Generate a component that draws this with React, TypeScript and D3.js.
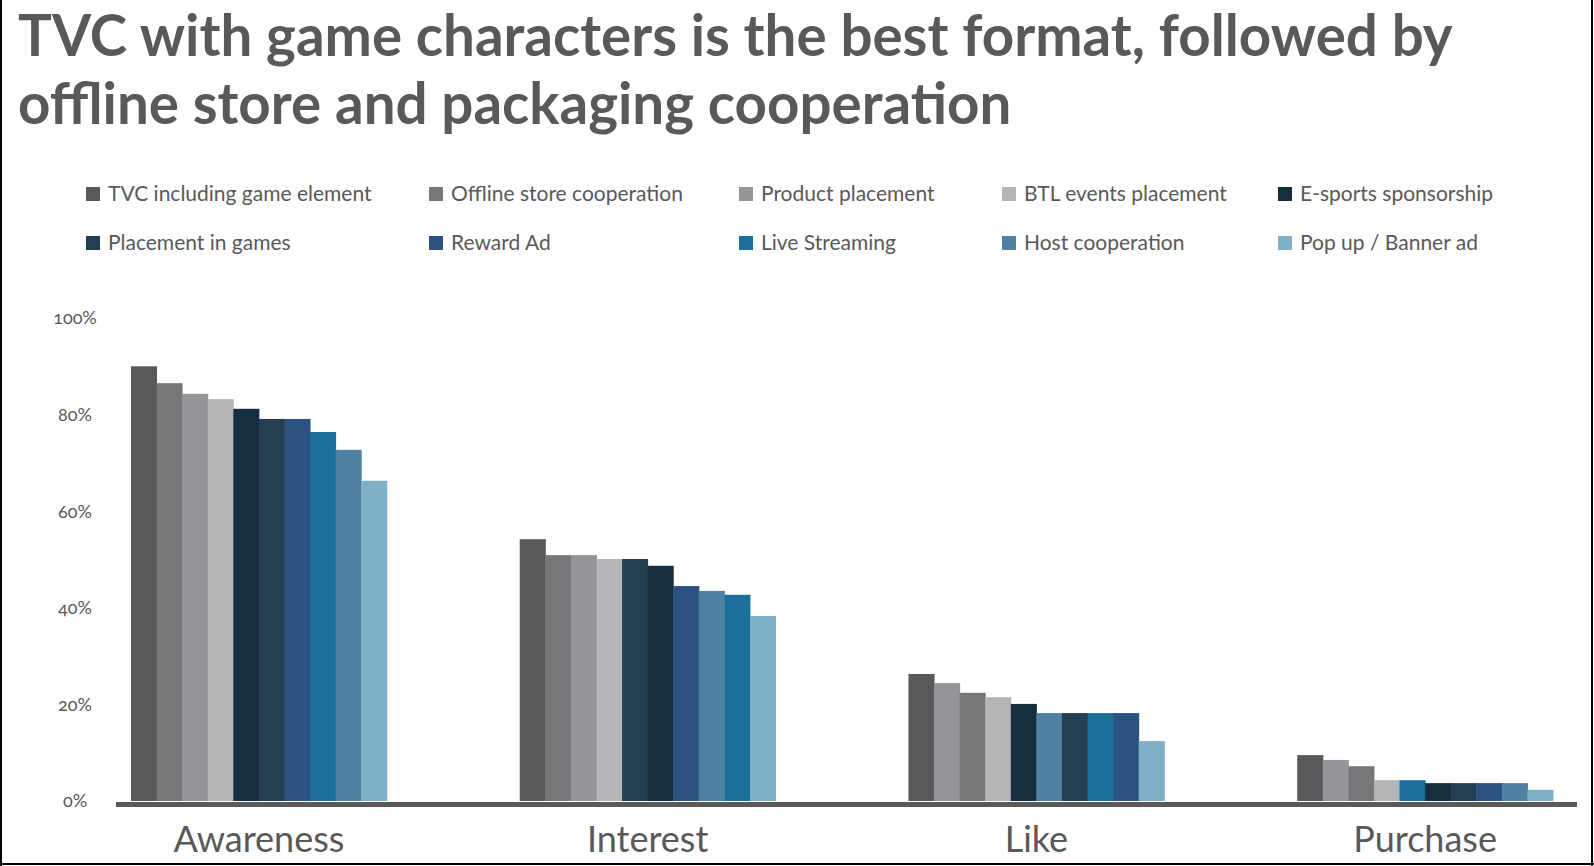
import React from "react";
import * as d3 from "d3";

const W = 1594;
const H = 866;

const categories = ["Awareness", "Interest", "Like", "Purchase"];

const seriesNames = [
  "TVC including game element",
  "Offline store cooperation",
  "Product placement",
  "BTL events placement",
  "E-sports sponsorship",
  "Placement in games",
  "Reward Ad",
  "Live Streaming",
  "Host cooperation",
  "Pop up / Banner ad",
];

const seriesColors = [
  "#58595b",
  "#767779",
  "#939598",
  "#b4b5b7",
  "#162d3d",
  "#243e52",
  "#2c5282",
  "#1a7099",
  "#4f81a3",
  "#80b0c8",
];

// values per series: [Awareness, Interest, Like, Purchase]
const tvc = [0.9, 0.542, 0.263, 0.095];
const offline = [0.865, 0.509, 0.224, 0.072];
const product = [0.843, 0.509, 0.244, 0.085];
const btl = [0.832, 0.501, 0.215, 0.043];
const esports = [0.812, 0.487, 0.201, 0.037];
const ingame = [0.791, 0.501, 0.182, 0.037];
const reward = [0.791, 0.445, 0.182, 0.037];
const live = [0.764, 0.427, 0.182, 0.043];
const host = [0.727, 0.435, 0.182, 0.037];
const popup = [0.663, 0.383, 0.124, 0.023];
const seriesValues = [tvc, offline, product, btl, esports, ingame, reward, live, host, popup];

// order of bars (series index) inside each category, as drawn
const barOrder = [
  [0, 1, 2, 3, 4, 5, 6, 7, 8, 9],
  [0, 1, 2, 3, 5, 4, 6, 8, 7, 9],
  [0, 2, 1, 3, 4, 8, 5, 7, 6, 9],
  [0, 2, 1, 3, 7, 4, 5, 6, 8, 9],
];

const yTicks = [0, 0.2, 0.4, 0.6, 0.8, 1.0];

const titleLines = [
  "TVC with game characters is the best format, followed by",
  "offline store and packaging cooperation",
];

const FONT = "Lato, 'Open Sans', sans-serif";
const TEXT = "#595959";

export default function App() {
  const x = d3
    .scaleBand<string>()
    .domain(categories)
    .range([64.5, 1619.5])
    .paddingInner(0.342)
    .paddingOuter(0.171);
  const inner = d3
    .scaleBand<number>()
    .domain(d3.range(10))
    .range([0, x.bandwidth()]);
  const y = d3.scaleLinear().domain([0, 1]).range([801, 318]);

  const legendCols = [86, 429, 739, 1002, 1278];
  const legendRows = [194, 243];

  return (
    <svg
      width={W}
      height={H}
      style={{ position: "absolute", left: 0, top: 0, background: "#fff" }}
      fontFamily={FONT}
    >
      <rect x={0} y={0} width={W} height={H} fill="#fff" />
      {/* frame */}
      <line x1={1} y1={0} x2={1} y2={H} stroke="#000" strokeWidth={2} />
      <line x1={W - 2} y1={0} x2={W - 2} y2={H} stroke="#000" strokeWidth={2} />
      <line x1={0} y1={H - 2} x2={W} y2={H - 2} stroke="#000" strokeWidth={2} />

      {titleLines.map((t, i) => (
        <text
          key={i}
          x={18}
          y={56 + i * 68}
          fontSize={56.5}
          fontWeight={700}
          fill={TEXT}
        >
          {t}
        </text>
      ))}

      {seriesNames.map((name, i) => {
        const col = i % 5;
        const row = Math.floor(i / 5);
        const lx = legendCols[col];
        const ly = legendRows[row];
        return (
          <g key={name}>
            <rect x={lx} y={ly - 7} width={14} height={14} fill={seriesColors[i]} />
            <text x={lx + 22} y={ly} dy="0.35em" fontSize={21} fill={TEXT}>
              {name}
            </text>
          </g>
        );
      })}

      {yTicks.map((t) => (
        <text
          key={t}
          x={75}
          y={y(t)}
          dy="0.35em"
          textAnchor="middle"
          fontSize={18}
          fill={TEXT}
          style={{ fontVariantNumeric: "oldstyle-nums" }}
        >
          {d3.format(".0%")(t)}
        </text>
      ))}

      {categories.map((c, ci) => (
        <g key={c} transform={`translate(${x(c)},0)`}>
          {barOrder[ci].map((si, rank) => {
            const v = seriesValues[si][ci];
            return (
              <rect
                key={si}
                x={inner(rank)}
                y={y(v)}
                width={inner.bandwidth() + 0.5}
                height={y(0) - y(v)}
                fill={seriesColors[si]}
              />
            );
          })}
        </g>
      ))}

      <rect x={116} y={802} width={1461} height={5} fill={TEXT} />

      {categories.map((c) => (
        <text
          key={c}
          x={(x(c) as number) + x.bandwidth() / 2}
          y={839}
          dy="0.35em"
          textAnchor="middle"
          fontSize={36}
          fill={TEXT}
        >
          {c}
        </text>
      ))}
    </svg>
  );
}
